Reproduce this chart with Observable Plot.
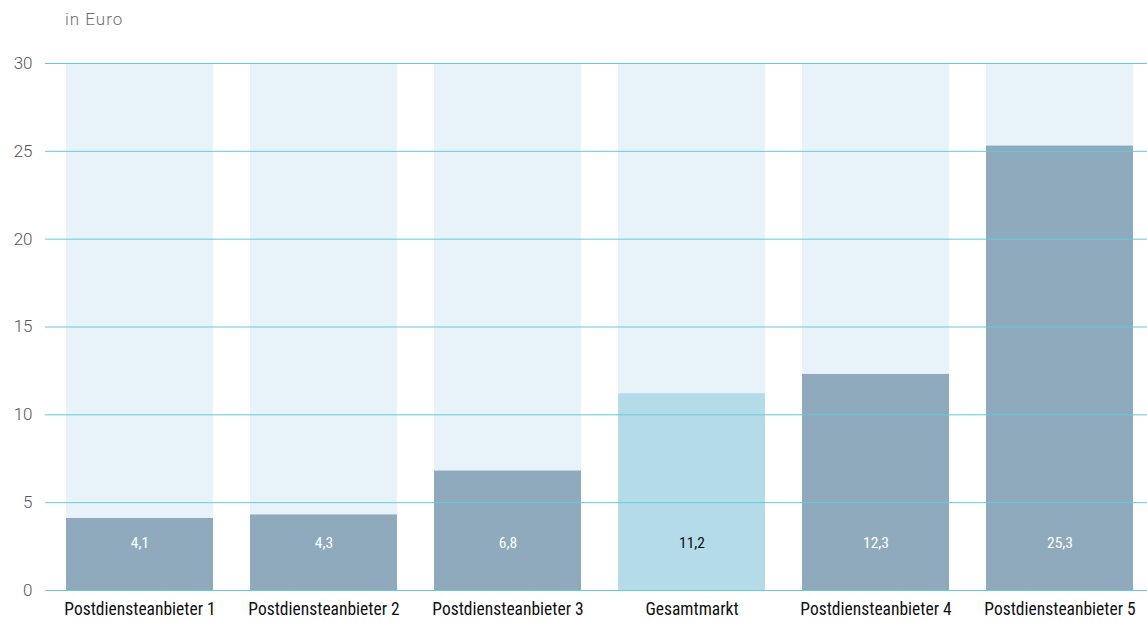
<!DOCTYPE html>
<html>
<head>
<meta charset="utf-8">
<script src="https://cdn.jsdelivr.net/npm/d3@7"></script>
<script src="https://cdn.jsdelivr.net/npm/@observablehq/plot@0.6"></script>
<style>
  html, body { margin: 0; padding: 0; background: #fff; }
  #title { height: 40px; box-sizing: border-box; padding-left: 65px; padding-top: 9px; font-family: Roboto, "Liberation Sans", sans-serif; font-size: 17px; font-weight: 300; color: #6f6f6f; letter-spacing: 1px; }
  #chart svg { display: block; }
</style>
</head>
<body>
<div id="title">in Euro</div>
<div id="chart"></div>
<script>
const categories = ["Postdiensteanbieter 1", "Postdiensteanbieter 2", "Postdiensteanbieter 3", "Gesamtmarkt", "Postdiensteanbieter 4", "Postdiensteanbieter 5"];
const values = [4.1, 4.3, 6.8, 11.2, 12.3, 25.3];
const yTicks = [0, 5, 10, 15, 20, 25, 30];
const yMax = 30;

const data = categories.map((c, i) => ({cat: c, value: values[i], total: c === "Gesamtmarkt"}));
const fmt = v => v.toFixed(1).replace(".", ",");
const condensed = "'Liberation Sans Narrow', 'Roboto Condensed', 'Arial Narrow', 'DejaVu Sans Condensed', sans-serif";

const chart = Plot.plot({
  width: 1147,
  height: 581,
  marginLeft: 65,
  marginRight: 13,
  marginTop: 23,
  marginBottom: 31,
  style: {fontFamily: "Roboto, 'Liberation Sans', sans-serif", background: "#fff"},
  x: {domain: categories, paddingInner: 0.2, paddingOuter: 0, label: null, axis: null},
  y: {domain: [0, yMax], label: null, ticks: yTicks, axis: null},
  marks: [
    Plot.barY(data, {x: "cat", y: () => yMax, fill: "#e7f3f8"}),
    Plot.barY(data, {x: "cat", y: "value", fill: d => d.total ? "#b4dbe8" : "#8faabd"}),
    Plot.ruleY(yTicks, {stroke: "#62cbe0", strokeWidth: 1, insetLeft: -20, insetRight: -13}),
    Plot.axisY(yTicks, {tickSize: 0, tickPadding: 33, fontSize: 17, fontWeight: 300, fill: "#555", textAnchor: "end", tickFormat: d => d}),
    Plot.axisX({tickSize: 0, tickPadding: 12, fontSize: 17.5, fill: "#111", fontFamily: condensed}),
    Plot.text(data, {x: "cat", y: () => 0, dy: -47, text: d => fmt(d.value), fill: d => d.total ? "#111" : "#fff", fontSize: 15.5, fontFamily: condensed})
  ]
});
document.getElementById("chart").append(chart);
</script>
</body>
</html>
